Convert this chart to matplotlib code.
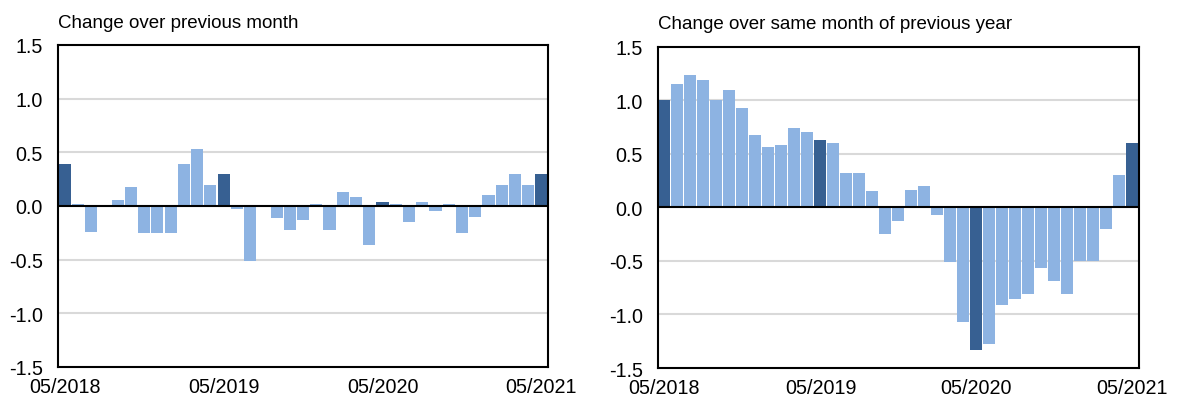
import matplotlib
matplotlib.use("Agg")
import matplotlib.pyplot as plt
import numpy as np

plt.rcParams['font.family'] = ['Liberation Sans', 'DejaVu Sans']

months = ["05/2018", "06/2018", "07/2018", "08/2018", "09/2018", "10/2018", "11/2018", "12/2018",
          "01/2019", "02/2019", "03/2019", "04/2019", "05/2019", "06/2019", "07/2019", "08/2019",
          "09/2019", "10/2019", "11/2019", "12/2019", "01/2020", "02/2020", "03/2020", "04/2020",
          "05/2020", "06/2020", "07/2020", "08/2020", "09/2020", "10/2020", "11/2020", "12/2020",
          "01/2021", "02/2021", "03/2021", "04/2021", "05/2021"]

mom = [0.39, 0.02, -0.24, 0.0, 0.06, 0.18, -0.25, -0.25, -0.25, 0.39, 0.53, 0.20,
       0.30, -0.03, -0.51, 0.0, -0.11, -0.22, -0.13, 0.02, -0.22, 0.13, 0.08, -0.36,
       0.04, 0.02, -0.15, 0.04, -0.05, 0.02, -0.25, -0.10, 0.10, 0.20, 0.30, 0.20, 0.30]

yoy = [1.00, 1.15, 1.24, 1.19, 1.00, 1.10, 0.93, 0.68, 0.56, 0.58, 0.74, 0.70,
       0.63, 0.60, 0.32, 0.32, 0.15, -0.25, -0.13, 0.16, 0.20, -0.07, -0.51, -1.07,
       -1.33, -1.28, -0.91, -0.86, -0.81, -0.57, -0.69, -0.81, -0.50, -0.50, -0.20, 0.30, 0.60]

titles = ["Change over previous month", "Change over same month of previous year"]
xtick_labels = ["05/2018", "05/2019", "05/2020", "05/2021"]
yticks = [-1.5, -1.0, -0.5, 0.0, 0.5, 1.0, 1.5]

DARK = "#376092"
LIGHT = "#8DB3E2"

fig = plt.figure(figsize=(11.8, 4.06), dpi=100)
ax1 = fig.add_axes([0.0492, 0.0936, 0.4153, 0.7931])
ax2 = fig.add_axes([0.5576, 0.0911, 0.4076, 0.7914])

for ax, vals, title in [(ax1, mom, titles[0]), (ax2, yoy, titles[1])]:
    x = np.arange(len(vals))
    colors = [DARK if m.startswith("05/") else LIGHT for m in months]
    ax.bar(x, vals, width=0.92, color=colors, zorder=2)
    ax.set_xlim(-0.5, len(vals) - 0.5)
    ax.set_ylim(-1.5, 1.5)
    ax.set_yticks(yticks)
    ax.set_yticklabels([f"{v:.1f}" for v in yticks])
    ticks = [i for i, m in enumerate(months) if m in xtick_labels]
    ax.set_xticks(ticks)
    ax.set_xticklabels([months[i] for i in ticks])
    for g in [-1.0, -0.5, 0.5, 1.0]:
        ax.axhline(g, color="#D9D9D9", lw=1.5, zorder=1)
    ax.axhline(0, color="black", lw=1.5, zorder=3)
    ax.tick_params(axis="both", length=0, labelsize=14.2, colors="black")
    ax.tick_params(axis="x", pad=7)
    ax.tick_params(axis="y", pad=11)
    for s in ax.spines.values():
        s.set_linewidth(1.5)
        s.set_color("black")
    ax.text(0.0, 1.045, title, transform=ax.transAxes, fontsize=13.5, ha="left", va="bottom")

fig.savefig("out.png", dpi=100)
